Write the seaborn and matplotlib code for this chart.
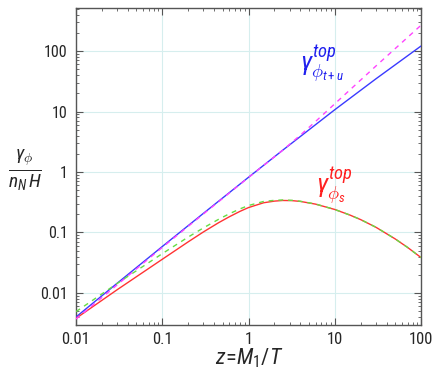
import numpy as np
import pandas as pd
import matplotlib
matplotlib.use('Agg')
import matplotlib.pyplot as plt
import matplotlib.ticker as mticker
import seaborn as sns

# values (log-log)
z_blue = [0.01, 0.03, 0.1, 0.3, 1, 2.5, 10, 30, 100]
g_tu = [0.0040, 0.01445, 0.0585, 0.207, 0.817, 2.30, 10.7, 34.7, 121]

z_mag = [0.01, 0.03, 0.1, 0.3, 1, 2.5, 4, 6, 10, 30, 100]
g_tu_approx = [0.0037, 0.0136, 0.0565, 0.202, 0.81, 2.3, 4.08, 6.86, 13.4, 56.5, 267]

z_s = [0.01, 0.03, 0.1, 0.2, 0.3, 0.45, 0.6, 0.8, 1, 1.5, 2, 2.5, 3.2, 4, 6,
       10, 15, 20, 30, 50, 70, 100]
g_s = [0.0038, 0.0113, 0.036, 0.070, 0.102, 0.145, 0.182, 0.224, 0.258, 0.310,
       0.330, 0.338, 0.336, 0.326, 0.294, 0.240, 0.194, 0.163, 0.122, 0.0785,
       0.0565, 0.0385]
g_s_approx = [0.0049, 0.01435, 0.0446, 0.084, 0.119, 0.165, 0.204, 0.246, 0.279, 0.326,
              0.340, 0.345, 0.340, 0.328, 0.295, 0.240, 0.194, 0.163, 0.122, 0.0785,
              0.0565, 0.0385]

sns.set_style('ticks')
plt.rcParams['font.family'] = ['Roboto Condensed', 'DejaVu Sans']
plt.rcParams['mathtext.fontset'] = 'custom'
plt.rcParams['mathtext.rm'] = 'Roboto Condensed'
plt.rcParams['mathtext.it'] = 'Roboto Condensed:italic'
plt.rcParams['mathtext.bf'] = 'Roboto Condensed:bold'

fig = plt.figure(figsize=(4.36, 3.82), dpi=100)
ax = fig.add_axes([76/436, 1-325/382, (421-76)/436, (325-8)/382])

df_blue = pd.DataFrame({'z': z_blue, 'g': g_tu})
df_mag = pd.DataFrame({'z': z_mag, 'g': g_tu_approx})
df_s = pd.DataFrame({'z': z_s, 'g': g_s, 'ga': g_s_approx})

# solid curves first, dashed approximations drawn over them
sns.lineplot(data=df_blue, x='z', y='g', ax=ax, color='#3a3aff', lw=1.0, zorder=3)
sns.lineplot(data=df_s, x='z', y='g', ax=ax, color='#ff3333', lw=1.0, zorder=3)
sns.lineplot(data=df_mag, x='z', y='g', ax=ax, color='#ff44ff', lw=1.0, zorder=4)
ax.lines[-1].set_dashes([3.5, 3.5])
sns.lineplot(data=df_s, x='z', y='ga', ax=ax, color='#66dd44', lw=1.0, zorder=4)
ax.lines[-1].set_dashes([3.5, 3.5])

ax.set_xscale('log')
ax.set_yscale('log')
ax.set_xlim(0.01, 100)
ax.set_ylim(0.00295, 515)

fmt = mticker.FuncFormatter(lambda v, p: ('%g' % v))
ax.xaxis.set_major_locator(mticker.FixedLocator([0.01, 0.1, 1, 10, 100]))
ax.yaxis.set_major_locator(mticker.FixedLocator([0.01, 0.1, 1, 10, 100]))
ax.xaxis.set_major_formatter(fmt)
ax.yaxis.set_major_formatter(fmt)
ax.xaxis.set_minor_locator(mticker.LogLocator(base=10, subs=np.arange(2, 10)))
ax.yaxis.set_minor_locator(mticker.LogLocator(base=10, subs=np.arange(2, 10)))
ax.xaxis.set_minor_formatter(mticker.NullFormatter())
ax.yaxis.set_minor_formatter(mticker.NullFormatter())

ax.grid(True, which='major', color='#d6eeee', lw=0.8)
ax.tick_params(which='both', direction='in', top=True, right=True, color='#555555')
ax.tick_params(which='major', length=5, width=0.8)
ax.tick_params(axis='x', which='major', pad=5, labelsize=12)
ax.tick_params(axis='y', which='major', pad=6, labelsize=11.5)
ax.tick_params(which='minor', length=2.5, width=0.6)
for s in ax.spines.values():
    s.set_color('#555555')
    s.set_linewidth(1.0)
ax.set_xlabel('')
ax.set_ylabel('')

fig.text(300/436, 1-64/382, r'$\gamma^{top}_{\phi_{t+u}}$', color='#2020ee',
         fontsize=19, ha='left', va='center')
fig.text(316/436, 1-186/382, r'$\gamma^{top}_{\phi_s}$', color='#ff2020',
         fontsize=19, ha='left', va='center')
fig.text(25/436, 1-170/382, r'$\frac{\gamma_\phi}{n_N\,H}$', fontsize=20,
         ha='center', va='center')
fig.text(249/436, 1-358/382, r'$z\!=\!M_1/T$', fontsize=16, ha='center', va='center')

fig.savefig('out.png', dpi=100)
